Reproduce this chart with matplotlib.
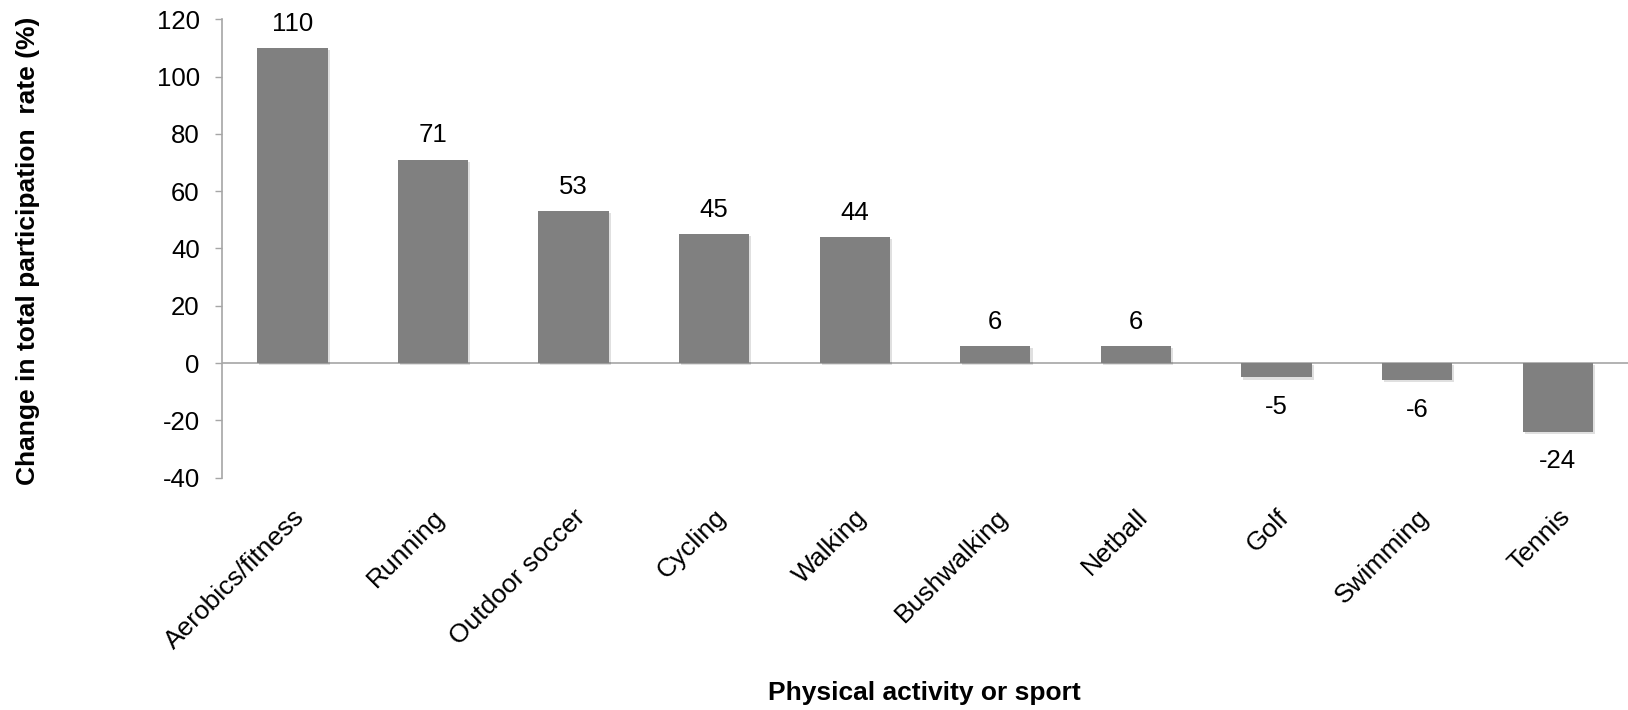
import matplotlib
matplotlib.use("Agg")
import matplotlib.pyplot as plt
import matplotlib.patheffects as pe
import numpy as np

plt.rcParams['font.family'] = ['Liberation Sans', 'DejaVu Sans']
plt.rcParams['axes.unicode_minus'] = False

activities = ["Aerobics/fitness", "Running", "Outdoor soccer", "Cycling", "Walking",
              "Bushwalking", "Netball", "Golf", "Swimming", "Tennis"]
change_pct = [110, 71, 53, 45, 44, 6, 6, -5, -6, -24]
y_ticks = [-40, -20, 0, 20, 40, 60, 80, 100, 120]

FS = 18.5
FS_LABEL = 19
GRID_GREY = "#a6a6a6"

fig = plt.figure(figsize=(16.28, 7.10), dpi=100)
ax = fig.add_axes([0.1364, 0.327, 0.8636, 0.646])

x = np.arange(len(activities))
bars = ax.bar(x, change_pct, width=0.5, color="#808080", zorder=2)
for b in bars:
    b.set_path_effects([pe.SimplePatchShadow(offset=(1.5, -1.5), shadow_rgbFace="#000000", alpha=0.12),
                        pe.Normal()])

# value labels above positive bars, below negative ones
for xi, v in zip(x, change_pct):
    dy = 17.5 if v >= 0 else -21
    ax.annotate(str(v), (xi, v), xytext=(0, dy), textcoords="offset points",
                ha="center", va="center", fontsize=FS, color="black")

ax.set_xlim(-0.5, len(activities) - 0.5)
ax.set_ylim(-40, 120)
ax.set_yticks(y_ticks)
ax.tick_params(axis="y", direction="out", length=5, width=1, color=GRID_GREY,
               labelsize=FS, pad=11)
ax.set_xticks(x)
ax.set_xticklabels(activities, rotation=45, ha="right", va="top",
                   rotation_mode="anchor", fontsize=FS_LABEL)
ax.tick_params(axis="x", length=0, pad=19.5)

ax.axhline(0, color=GRID_GREY, lw=1.2, zorder=1)
for s in ["top", "right", "bottom"]:
    ax.spines[s].set_visible(False)
ax.spines["left"].set_color(GRID_GREY)
ax.spines["left"].set_linewidth(1.2)

ax.set_ylabel("Change in total participation  rate (%)", fontsize=FS_LABEL, fontweight="bold")
ax.yaxis.set_label_coords(-0.1294, 0.496)
fig.text(0.5676, 0.024, "Physical activity or sport", ha="center", va="center",
         fontsize=FS_LABEL, fontweight="bold")

fig.savefig("out.png", dpi=100)
